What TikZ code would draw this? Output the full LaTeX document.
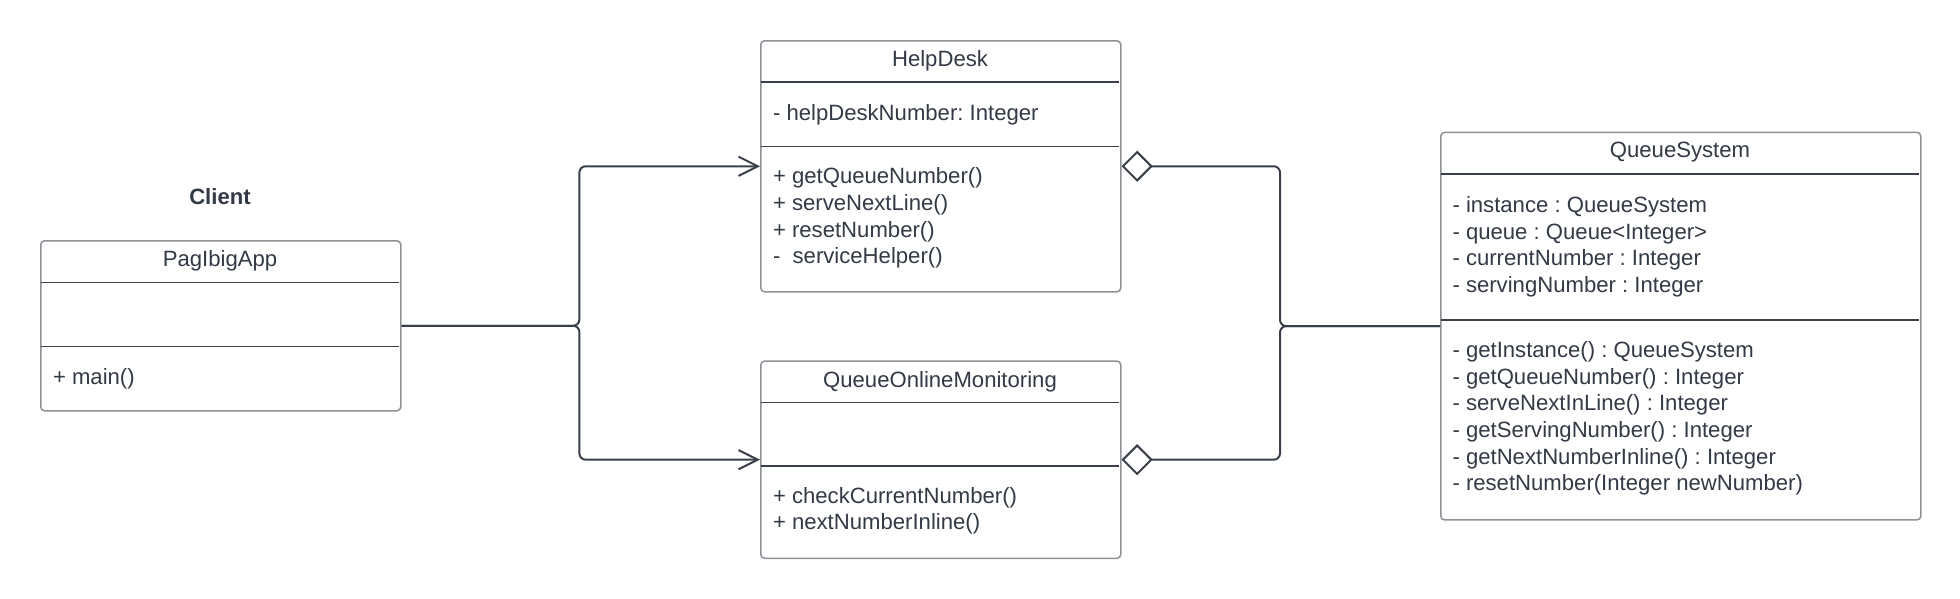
\documentclass[tikz,border=0pt]{standalone}
\usepackage{fontspec}
\setmainfont{Liberation Sans}
\usetikzlibrary{arrows.meta}
\definecolor{txtc}{HTML}{333A45}
\definecolor{linec}{HTML}{3A404A}
\definecolor{borderc}{HTML}{8E9197}
\frenchspacing
\begin{document}
\begin{tikzpicture}[x=0.5pt, y=-0.5pt,
  every node/.style={font=\fontsize{8.85pt}{10.67pt}\selectfont, text=txtc},
  classbox/.style={draw=borderc, line width=0.6pt, rounded corners=1.5pt, inner sep=0pt, anchor=north west, fill=white},
  divider/.style={draw=linec, line width=0.45pt},
  lbl/.style={inner sep=0pt, anchor=base west, yshift=-3pt},
  ttl/.style={inner sep=0pt, anchor=base, yshift=-3pt},
  conn/.style={draw=linec, line width=0.8pt, rounded corners=2.5pt},
  assoc/.style={conn, -{Straight Barb[length=7.7pt, width=7.7pt]}},
  aggr/.style={conn, -{Diamond[open, length=12.5pt, width=12.5pt]}}]
\useasboundingbox (0,0) rectangle (1568,478.4);

% class boxes
\node[classbox, minimum width=144pt, minimum height=68pt] (pa) at (32,192) {};
\node[classbox, minimum width=144pt, minimum height=100.4pt] (hd) at (608,32) {};
\node[classbox, minimum width=144pt, minimum height=78.85pt] (qom) at (608,288.3) {};
\node[classbox, minimum width=192pt, minimum height=155pt] (qs) at (1152,105.3) {};

% dividers
\draw[divider] (32.6,225.9) -- (319.4,225.9);
\draw[divider] (32.6,277.3) -- (319.4,277.3);
\draw[divider] (608.6,65.6) -- (895.4,65.6);
\draw[divider] (608.6,116.9) -- (895.4,116.9);
\draw[divider] (608.6,321.9) -- (895.4,321.9);
\draw[divider] (608.6,372.8) -- (895.4,372.8);
\draw[divider] (1152.6,139.2) -- (1535.4,139.2);
\draw[divider] (1152.6,256) -- (1535.4,256);

% Client / PagIbigApp
\node[ttl, font=\fontsize{8.85pt}{10.67pt}\selectfont\bfseries] (client) at (176,157.3) {Client};
\node[ttl] (pa-t) at (176,207.2) {PagIbigApp};
\node[lbl] (pa-m0) at (42,301.3) {+ main()};

% HelpDesk
\node[ttl] (hd-t) at (752,47.3) {HelpDesk};
\node[lbl] (hd-a0) at (618,90) {- helpDeskNumber: Integer};
\foreach \t [count=\i from 0] in {+ getQueueNumber(), + serveNextLine(), + resetNumber(), -\ \ serviceHelper()}
  \node[lbl] (hd-m\i) at (618,141+21.33*\i) {\t};

% QueueOnlineMonitoring
\node[ttl] (qom-t) at (752,303.6) {QueueOnlineMonitoring};
\foreach \t [count=\i from 0] in {+ checkCurrentNumber(), + nextNumberInline()}
  \node[lbl] (qom-m\i) at (618,396.6+21.33*\i) {\t};

% QueueSystem
\node[ttl] (qs-t) at (1344,120) {QueueSystem};
\foreach \t [count=\i from 0] in {- instance : QueueSystem, - queue : Queue<Integer>, - currentNumber : Integer, - servingNumber : Integer}
  \node[lbl] (qs-a\i) at (1161.6,164+21.33*\i) {\t};
\foreach \t [count=\i from 0] in {- getInstance() : QueueSystem, - getQueueNumber() : Integer, - serveNextInLine() : Integer, - getServingNumber() : Integer, - getNextNumberInline() : Integer, - resetNumber(Integer newNumber)}
  \node[lbl] (qs-m\i) at (1161.6,280+21.33*\i) {\t};

% junction coordinates
\coordinate (jl) at (463.5,260);
\coordinate (jr) at (1024,260);

% connectors
\draw[assoc] (pa.east) -| (jl |- hd.west) -- (hd.west);
\draw[assoc] (pa.east) -| (jl |- qom.west) -- (qom.west);
\draw[aggr] (qs.west) -| (jr |- hd.east) -- (hd.east);
\draw[aggr] (qs.west) -| (jr |- qom.east) -- (qom.east);
\end{tikzpicture}
\end{document}
